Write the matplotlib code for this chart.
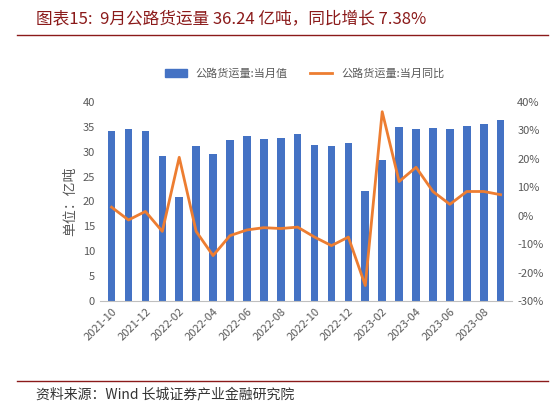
import matplotlib
matplotlib.use('Agg')
import matplotlib.pyplot as plt
from matplotlib.lines import Line2D
import numpy as np

plt.rcParams['font.family'] = ['Noto Sans CJK SC', 'DejaVu Sans']

months = ['2021-10','2021-11','2021-12','2022-01','2022-02','2022-03','2022-04','2022-05',
          '2022-06','2022-07','2022-08','2022-09','2022-10','2022-11','2022-12','2023-01',
          '2023-02','2023-03','2023-04','2023-05','2023-06','2023-07','2023-08','2023-09']
volume = [34.2,34.6,34.2,29.2,20.8,31.2,29.6,32.4,33.2,32.6,32.8,33.6,31.4,31.2,31.8,22.0,
          28.4,35.0,34.6,34.8,34.6,35.2,35.6,36.24]
yoy = [3.0,-1.5,1.5,-5.5,20.5,-5.5,-14.0,-7.0,-5.0,-4.2,-4.5,-4.0,-7.5,-10.5,-7.5,-24.5,
       36.5,12.0,17.0,8.5,4.0,8.5,8.5,7.38]

fig = plt.figure(figsize=(5.54,4.07), dpi=100)
ax = fig.add_axes([0.18, 0.26, 0.745, 0.49])
x = np.arange(len(months))
ax.bar(x, volume, width=0.45, color='#4472C4', label='公路货运量:当月值')
ax.set_ylim(0,40)
ax.set_yticks(range(0,41,5))
ax.set_xlim(-0.7, len(months)-0.3)
ax.set_xticks(x[::2])
ax.set_xticklabels(months[::2], rotation=45, ha='right', rotation_mode='anchor')
ax.set_ylabel('单位：亿吨', color='#595959', fontsize=10)
ax2 = ax.twinx()
ax2.plot(x, yoy, color='#ED7D31', lw=2)
ax2.set_ylim(-30,40)
ax2.set_yticks(range(-30,41,10))
ax2.set_yticklabels([f'{v}%' for v in range(-30,41,10)])
for a in (ax, ax2):
    for s in a.spines.values():
        s.set_visible(False)
    a.tick_params(length=0, labelsize=8, colors='#595959')
ax.spines['bottom'].set_visible(True)
ax.spines['bottom'].set_color('#BFBFBF')
handles = [plt.Rectangle((0,0),1,1,color='#4472C4'), Line2D([],[],color='#ED7D31',lw=2)]
fig.legend(handles, ['公路货运量:当月值','公路货运量:当月同比'], loc='center', ncol=2,
           bbox_to_anchor=(0.55,0.82), frameon=False, fontsize=8, labelcolor='#595959')
fig.text(0.065, 0.955, '图表15:  9月公路货运量 36.24 亿吨，同比增长 7.38%', fontsize=12,
         style='italic', color='#8B1A1A', va='center')
fig.add_artist(Line2D([0.03,0.99],[0.915,0.915], color='#8B1A1A', lw=1))
fig.add_artist(Line2D([0.03,0.99],[0.065,0.065], color='#8B1A1A', lw=1))
fig.text(0.065, 0.03, '资料来源：Wind 长城证券产业金融研究院', fontsize=10, style='italic',
         color='#333333', va='center')
fig.savefig('out.png', dpi=100)
